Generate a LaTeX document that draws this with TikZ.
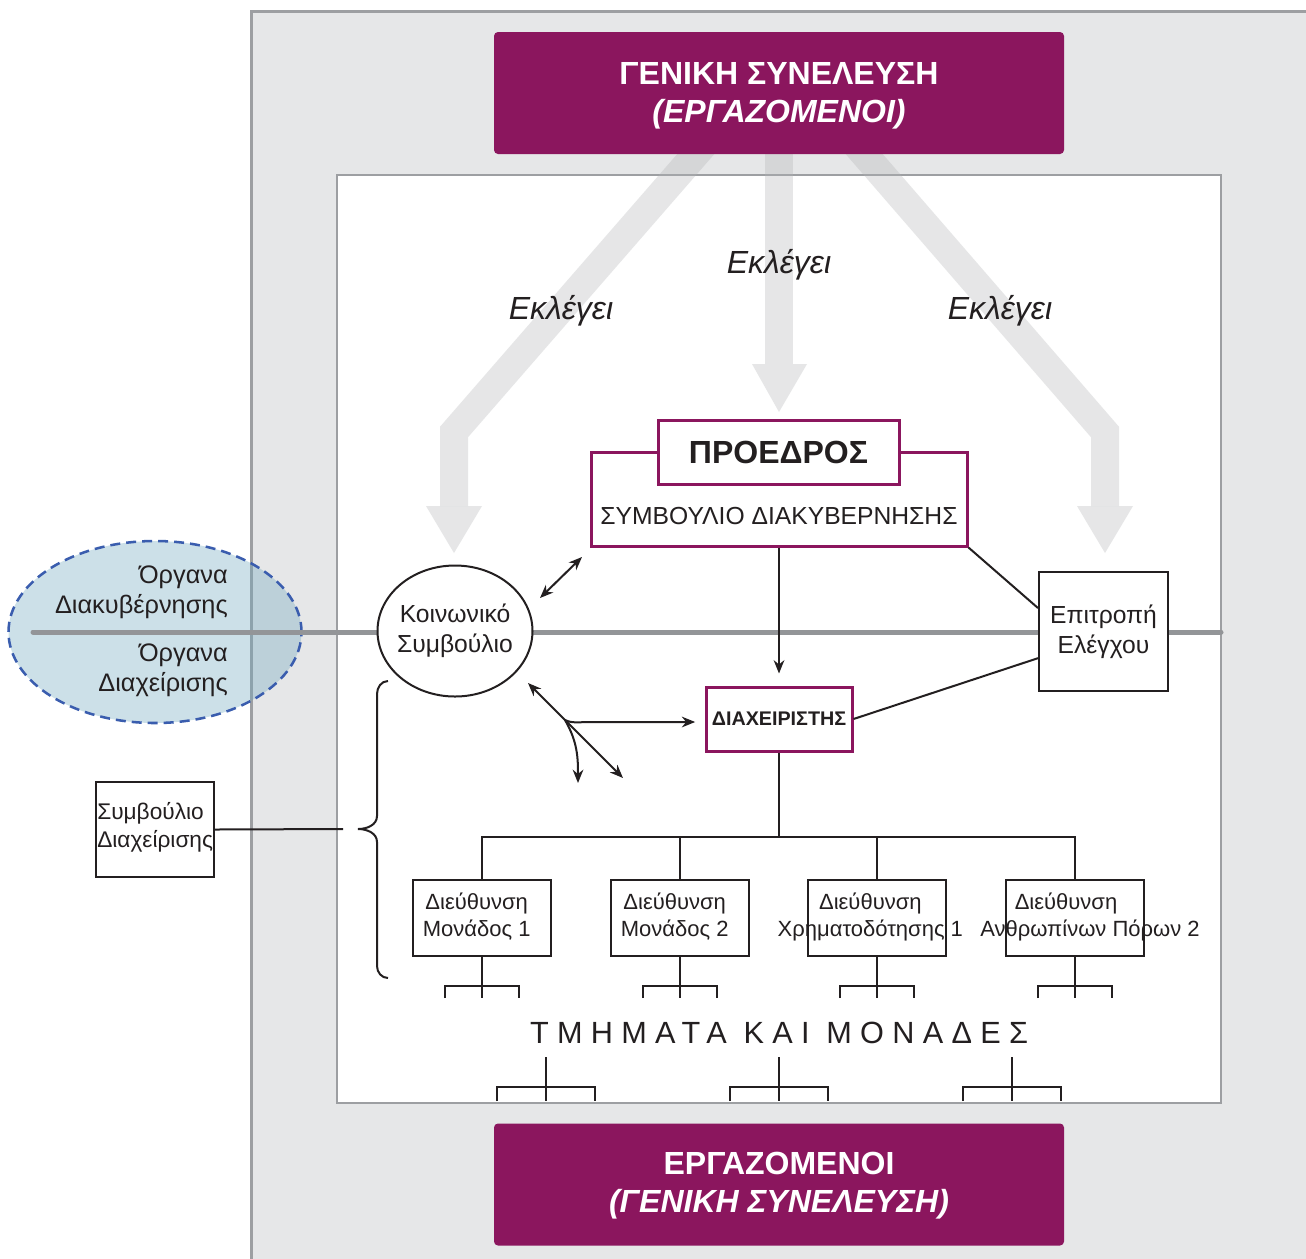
\documentclass[tikz,border=0pt]{standalone}
\usepackage{fontspec}
\setmainfont{Liberation Sans}
\newfontfamily\spacedfont[LetterSpace=27]{Liberation Sans}
\usetikzlibrary{shapes.geometric,arrows.meta}

\definecolor{ink}{RGB}{35,31,32}
\definecolor{gmpurple}{RGB}{139,22,94}
\definecolor{bgray}{RGB}{230,231,232}
\definecolor{framegray}{RGB}{157,159,162}
\definecolor{linegray}{RGB}{147,149,152}
\definecolor{bandgray}{RGB}{178,179,182}
\definecolor{ogfill}{RGB}{114,169,192}
\definecolor{ogblue}{RGB}{58,93,174}

\tikzset{
    headbox/.style={fill=gmpurple, rounded corners=3pt, minimum width=427.5pt,
        minimum height=91.5pt, text=white, align=center,
        font=\fontsize{24}{28.5}\selectfont\bfseries},
    band/.style={draw=bandgray, draw opacity=0.32, line width=21pt, line join=miter},
    bandhead/.style={fill=bandgray, fill opacity=0.32},
    elects/.style={font=\fontsize{24}{28}\selectfont\itshape},
    redbox/.style={draw=gmpurple, line width=2.25pt, fill=white},
    blackbox/.style={draw=ink, line width=1.5pt, fill=white},
    dirtext/.style={align=center, font=\fontsize{16.5}{20}\selectfont},
    midline/.style={draw=linegray, line width=3.75pt, line cap=round},
    conn/.style={draw=ink, line width=1.5pt},
}

\begin{document}
\begin{tikzpicture}[x=0.75pt,y=0.75pt,
        >={Stealth[length=10pt,width=8pt]},
        every node/.style={text=ink}]
    \useasboundingbox (0,0) rectangle (1306,-1258);

    \filldraw[fill=bgray, draw=framegray, line width=2.25pt] (251,-11) rectangle (1330,-1290);
    \filldraw[fill=white, draw=framegray, line width=1.5pt] (337,-175) rectangle (1221,-1103);

    \draw[band] (708,-140) -- (454,-432) -- (454,-506);
    \fill[bandhead] (426,-506) -- (482,-506) -- (454,-553) -- cycle;
    \draw[band] (779,-140) -- (779,-364);
    \fill[bandhead] (752,-364) -- (807,-364) -- (779,-412) -- cycle;
    \draw[band] (852,-140) -- (1105,-432) -- (1105,-506);
    \fill[bandhead] (1077,-506) -- (1133,-506) -- (1105,-553) -- cycle;

    \node[headbox] (ga) at (779,-93) {};
    \node[headbox, fill=none] (gatxt) at (779,-96) {ΓΕΝΙΚΗ ΣΥΝΕΛΕΥΣΗ\\{\itshape (ΕΡΓΑΖΟΜΕΝΟΙ)}};
    \node[headbox] (er) at (779,-1184.5) {};
    \node[headbox, fill=none] (ertxt) at (779,-1185.5) {ΕΡΓΑΖΟΜΕΝΟΙ\\{\itshape (ΓΕΝΙΚΗ ΣΥΝΕΛΕΥΣΗ)}};

    \node[elects] (ek1) at (779,-265) {Εκλέγει};
    \node[elects] (ek2) at (561,-311) {Εκλέγει};
    \node[elects] (ek3) at (1000,-311) {Εκλέγει};

    \node[ellipse, minimum width=219.75pt, minimum height=136.5pt, fill=ogfill,
        fill opacity=0.36, draw=ogblue, line width=1.9pt,
        dash pattern=on 7.5pt off 4.5pt] (og) at (155,-632) {};
    \node[anchor=east, align=right, inner sep=0pt, font=\fontsize{19}{22.5}\selectfont] (og1) at (228,-592) {Όργανα\\Διακυβέρνησης};
    \node[anchor=east, align=right, inner sep=0pt, font=\fontsize{19}{22.5}\selectfont] (og2) at (228,-670) {Όργανα\\Διαχείρισης};

    \coordinate (ml) at (33,-632);
    \coordinate (mr) at (1221,-632);
    \draw[midline] (ml) -- (mr);

    \node[redbox, minimum width=282pt, minimum height=70.5pt] (sd) at (779,-499) {};
    \node[font=\fontsize{18.5}{22}\selectfont] (sdtxt) at (779,-516) {ΣΥΜΒΟΥΛΙΟ ΔΙΑΚΥΒΕΡΝΗΣΗΣ};
    \node[redbox, minimum width=180.75pt, minimum height=48pt,
        font=\fontsize{24}{28}\selectfont\bfseries] (pr) at (778.5,-452) {ΠΡΟΕΔΡΟΣ};
    \node[redbox, minimum width=109.5pt, minimum height=48pt,
        font=\fontsize{14.8}{17}\selectfont\bfseries] (dx) at (779,-719) {ΔΙΑΧΕΙΡΙΣΤΗΣ};

    \node[ellipse, blackbox, minimum width=116.25pt, minimum height=98.25pt] (ks) at (455,-631) {};
    \node[align=center, font=\fontsize{18.5}{22.5}\selectfont] (kstxt) at (455,-631) {Κοινωνικό\\Συμβούλιο};
    \node[blackbox, minimum width=96.75pt, minimum height=89.25pt, align=center,
        font=\fontsize{18.5}{22.5}\selectfont] (ep) at (1103.5,-631.5) {Επιτροπή\\Ελέγχου};

    \node[blackbox, minimum width=88.5pt, minimum height=71.25pt] (sdx) at (155,-829.5) {};
    \node[anchor=west, align=left, inner sep=0pt, font=\fontsize{17}{21}\selectfont] (sdxtxt) at (97,-827) {Συμβούλιο\\Διαχείρισης};

    \foreach \n/\x in {d1/482,d2/680,d3/877,d4/1075}
        \node[blackbox, minimum width=103.5pt, minimum height=57pt] (\n) at (\x,-918) {};
    \node[dirtext] at ([xshift=-4pt,yshift=1pt]d1) {Διεύθυνση\\Μονάδος 1};
    \node[dirtext] at ([xshift=-4pt,yshift=1pt]d2) {Διεύθυνση\\Μονάδος 2};
    \node[dirtext] at ([xshift=-5pt,yshift=1pt]d3) {Διεύθυνση\\Χρηματοδότησης 1};
    \node[dirtext] at ([xshift=11.25pt,yshift=1pt]d4) {Διεύθυνση\hspace*{36pt}\\Ανθρωπίνων Πόρων 2};

    \draw[conn, ->, shorten >=9pt] (sd.south) -- (dx.north);
    \draw[conn] (sd.south east) -- ([yshift=17.6pt]ep.west);
    \draw[conn] (dx.east) -- ([yshift=-20pt]ep.west);

    \coordinate (ksA) at (540,-598);
    \coordinate (sdA) at (582,-557);
    \draw[conn, <->] (ksA) -- (sdA);

    \coordinate (ksB) at (528,-683);
    \coordinate (kj) at (565,-720);
    \coordinate (ksC) at (578,-783);
    \coordinate (ksD) at (623,-778);
    \draw[conn, <->] (ksB) -- (ksD);
    \draw[conn, ->, shorten >=7pt] (kj) to[out=-25,in=180] (588,-722) -- ([yshift=-2.25pt]dx.west);
    \draw[conn, ->] (kj) to[out=-60,in=90] (ksC);

    \draw[conn] (388,-681) to[out=180,in=90] (377,-694) -- (377,-816)
        to[out=-90,in=0] (358,-829) to[out=0,in=90] (377,-842) -- (377,-966)
        to[out=-90,in=180] (388,-978);
    \coordinate (br) at (343,-829);
    \draw[conn] (sdx.east) -- (br);

    \draw[conn] (dx.south) -- ++(0,-84) coordinate (bus);
    \draw[conn] (d1.north) |- (bus) -| (d4.north);
    \draw[conn] (d2.north) -- (d2.north |- bus);
    \draw[conn] (d3.north) -- (d3.north |- bus);
    \foreach \n in {d1,d2,d3,d4}{
        \draw[conn] (\n.south) -- ++(0,-41);
        \draw[conn] (\n.south) ++(-37,-41) |- ++(37,12) -| ++(37,-12);
    }

    \node[font=\fontsize{23}{27}\spacedfont] (tm) at (779,-1033) {ΤΜΗΜΑΤΑ ΚΑΙ ΜΟΝΑΔΕΣ};
    \foreach \x in {546,779,1012}{
        \draw[conn] (\x,-1057) -- (\x,-1101);
        \draw[conn] (\x-49,-1101) |- (\x+49,-1087) -- (\x+49,-1101);
    }
\end{tikzpicture}
\end{document}
